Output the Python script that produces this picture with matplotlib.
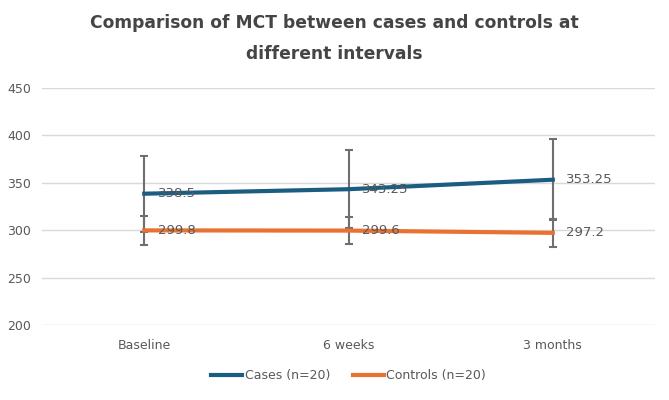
import matplotlib.pyplot as plt
from matplotlib.lines import Line2D
import numpy as np

categories = ['Baseline', '6 weeks', '3 months']
cases = [338.5, 343.25, 353.25]
cases_err = [40, 41, 42.5]
controls = [299.8, 299.6, 297.2]
controls_err = [15, 14.5, 15]

fig = plt.figure(figsize=(6.69, 4), dpi=100)
ax = fig.add_axes([0.063, 0.1875, 0.916, 0.5925])

x = np.arange(len(categories))
blue = '#1b5d80'
orange = '#e97132'
gray = '#595959'

ax.errorbar(x, cases, yerr=cases_err, color=blue, lw=3, ecolor='#6f6f6f',
            elinewidth=1.5, capsize=3, capthick=1.5, zorder=3)
ax.errorbar(x, controls, yerr=controls_err, color=orange, lw=3, ecolor='#6f6f6f',
            elinewidth=1.5, capsize=3, capthick=1.5, zorder=3)

for xi, v in zip(x, cases):
    ax.text(xi + 0.065, v, f'{v:g}', color=gray, fontsize=9.5, va='center', ha='left', zorder=5)
for xi, v in zip(x, controls):
    ax.text(xi + 0.065, v, f'{v:g}', color=gray, fontsize=9.5, va='center', ha='left', zorder=5)

ax.set_xlim(-0.5, 2.5)
ax.set_ylim(200, 450)
ax.set_yticks(range(200, 451, 50))
ax.set_xticks(x)
ax.set_xticklabels(categories)
ax.grid(axis='y', color='#d9d9d9', lw=1)
ax.set_axisbelow(True)
for s in ax.spines.values():
    s.set_visible(False)
ax.tick_params(length=0, labelsize=9, labelcolor=gray)
ax.tick_params(axis='y', pad=8)
ax.tick_params(axis='x', pad=10)

fig.suptitle('Comparison of MCT between cases and controls at\ndifferent intervals',
             x=0.5, y=0.965, fontsize=12.3, fontweight='bold', color='#454545', linespacing=1.9)

handles = [Line2D([], [], color=blue, lw=3), Line2D([], [], color=orange, lw=3)]
ax.legend(handles, ['Cases (n=20)', 'Controls (n=20)'], loc='upper center',
          bbox_to_anchor=(0.5, -0.14), ncol=2, frameon=False, fontsize=9,
          labelcolor=gray, handlelength=2.5, handletextpad=0.2, columnspacing=1.8)

fig.savefig('out.png', dpi=100)
